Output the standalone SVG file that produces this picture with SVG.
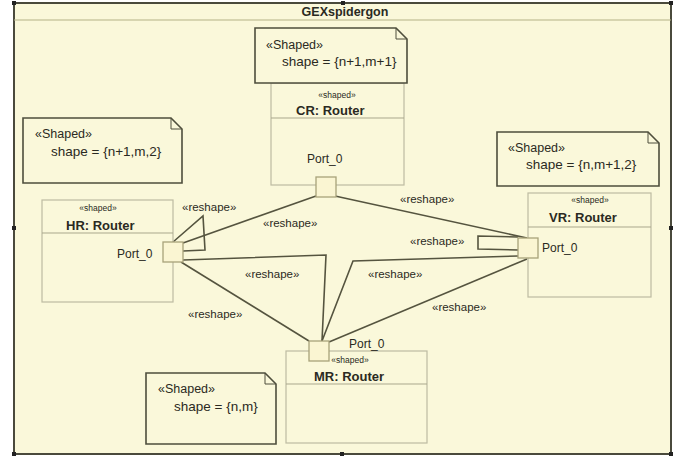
<svg xmlns="http://www.w3.org/2000/svg" width="686" height="459" viewBox="0 0 686 459">
<style>
text{font-family:"Liberation Sans",Arial,sans-serif;fill:#2a2a22}
.t{font-size:12.5px;font-weight:bold;text-anchor:middle}
.nt{font-size:12.5px}
.sh{font-size:13.5px}
.st{font-size:8.5px;text-anchor:middle}
.rn{font-size:13px;font-weight:bold}
.pt{font-size:12px}
.lb{font-size:11.5px}
.note{fill:#faf8da;stroke:#4e4e3c;stroke-width:1.6}
.box{fill:none;stroke:#bdbba2;stroke-width:1.2}
.div{stroke:#a9a78c;stroke-width:1}
.port{fill:#faf5d2;stroke:#a8a27a;stroke-width:1.3}
.c{fill:none;stroke:#55543f;stroke-width:1.6}
</style>
<rect width="686" height="459" fill="#ffffff"/>
<g id="frame">
<rect x="14" y="3" width="657" height="451" fill="#faf8da" stroke="#4a4a3c" stroke-width="2"/>
<line x1="14" y1="20" x2="671" y2="20" stroke="#b4b285" stroke-width="1.2"/>
<text class="t" x="345" y="16">GEXspidergon</text>
<rect x="12" y="1" width="4" height="4" fill="#222"/>
<rect x="341" y="1" width="4" height="4" fill="#222"/>
<rect x="669" y="1" width="4" height="4" fill="#222"/>
<rect x="12" y="226" width="4" height="4" fill="#222"/>
<rect x="669" y="226" width="4" height="4" fill="#222"/>
<rect x="12" y="452" width="4" height="4" fill="#222"/>
<rect x="340" y="452" width="4" height="4" fill="#222"/>
<rect x="669" y="452" width="4" height="4" fill="#222"/>
</g>
<g id="connectors">
<polyline class="c" points="183,243 316,196"/>
<polyline class="c" points="173,242 203,216 205,250 183,251"/>
<polyline class="c" points="183,260 326,255 322,341"/>
<polyline class="c" points="518,256 353,261 322,341"/>
<polyline class="c" points="181,262 309,341"/>
<polyline class="c" points="527,259 329,342"/>
<polyline class="c" points="335,196 527,238"/>
<polyline class="c" points="518,237 478,236 478,249 518,250"/>
<text class="lb" x="182" y="211">«reshape»</text>
<text class="lb" x="263" y="227">«reshape»</text>
<text class="lb" x="400" y="203">«reshape»</text>
<text class="lb" x="410" y="245">«reshape»</text>
<text class="lb" x="245" y="278">«reshape»</text>
<text class="lb" x="368" y="278">«reshape»</text>
<text class="lb" x="188" y="318">«reshape»</text>
<text class="lb" x="432" y="311">«reshape»</text>
</g>
<g id="CR">
<rect class="box" x="271" y="83" width="133" height="102"/>
<line class="div" x1="271" y1="118" x2="404" y2="118"/>
<text class="st" x="337" y="98">«shaped»</text>
<text class="rn" x="296" y="115">CR: Router</text>
<text class="pt" x="307" y="163">Port_0</text>
<rect class="port" x="316" y="177" width="20" height="20"/>
</g>
<g id="CR-note">
<path class="note" d="M255,28 H396 L407,39 V83 H255 Z"/>
<path d="M396,28 V39 H407" fill="none" stroke="#4e4e3c" stroke-width="1"/>
<text class="nt" x="266" y="49">«Shaped»</text>
<text class="sh" x="282" y="66">shape = {n+1,m+1}</text>
</g>
<g id="HR">
<rect class="box" x="42" y="200" width="131" height="102"/>
<line class="div" x1="42" y1="233" x2="173" y2="233"/>
<text class="st" x="98" y="211">«shaped»</text>
<text class="rn" x="66" y="230">HR: Router</text>
<text class="pt" x="117" y="258">Port_0</text>
<rect class="port" x="163" y="242" width="20" height="20"/>
</g>
<g id="HR-note">
<path class="note" d="M23,118 H171 L182,129 V183 H23 Z"/>
<path d="M171,118 V129 H182" fill="none" stroke="#4e4e3c" stroke-width="1"/>
<text class="nt" x="35" y="138">«Shaped»</text>
<text class="sh" x="51" y="156">shape = {n+1,m,2}</text>
</g>
<g id="VR">
<rect class="box" x="528" y="193" width="123" height="104"/>
<line class="div" x1="528" y1="227" x2="651" y2="227"/>
<text class="st" x="590" y="203">«shaped»</text>
<text class="rn" x="549" y="222">VR: Router</text>
<text class="pt" x="542" y="252">Port_0</text>
<rect class="port" x="518" y="238" width="20" height="20"/>
</g>
<g id="VR-note">
<path class="note" d="M497,132 H648 L659,143 V186 H497 Z"/>
<path d="M648,132 V143 H659" fill="none" stroke="#4e4e3c" stroke-width="1"/>
<text class="nt" x="508" y="152">«Shaped»</text>
<text class="sh" x="526" y="169">shape = {n,m+1,2}</text>
</g>
<g id="MR">
<rect class="box" x="286" y="351" width="141" height="92"/>
<line class="div" x1="286" y1="384" x2="427" y2="384"/>
<text class="st" x="350" y="363">«shaped»</text>
<text class="rn" x="314" y="381">MR: Router</text>
<text class="pt" x="349" y="348">Port_0</text>
<rect class="port" x="309" y="341" width="20" height="20"/>
</g>
<g id="MR-note">
<path class="note" d="M146,373 H265 L276,384 V444 H146 Z"/>
<path d="M265,373 V384 H276" fill="none" stroke="#4e4e3c" stroke-width="1"/>
<text class="nt" x="158" y="393">«Shaped»</text>
<text class="sh" x="174" y="411">shape = {n,m}</text>
</g>
</svg>
